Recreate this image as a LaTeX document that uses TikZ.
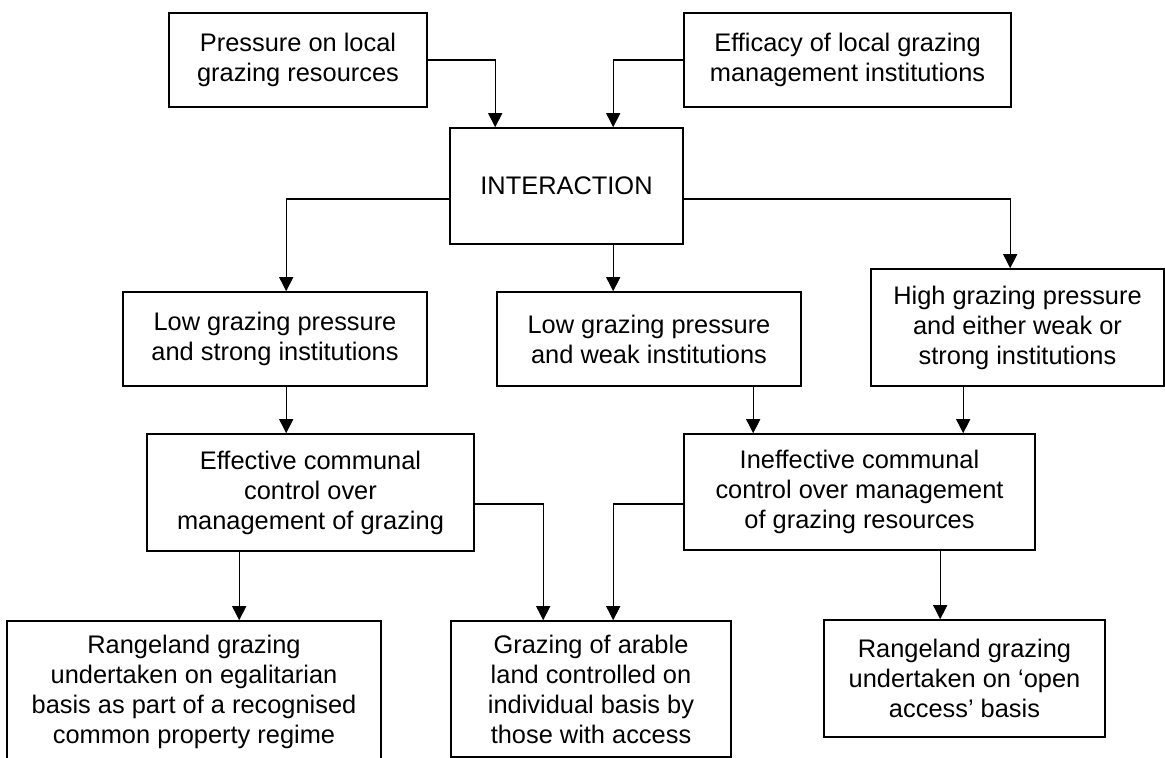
\documentclass[tikz,border=0pt]{standalone}
\usepackage{fontspec}
\setmainfont{Liberation Sans}
\usetikzlibrary{arrows.meta}

\begin{document}
\begin{tikzpicture}[
    x=0.5pt, y=-0.5pt,
    box/.style={rectangle, draw, line width=0.8pt, align=center,
                inner sep=2pt, font=\fontsize{12.7}{15}\selectfont},
    arr/.style={-{Triangle[length=7pt, width=7pt]}, line width=0.6pt}
  ]
    \path[use as bounding box, fill=white] (0,0) rectangle (1165,758);
    % the two inputs and their interaction
    \node[box, minimum width=129pt, minimum height=47pt] (pres) at (298,60) {Pressure on local\\ grazing resources};
    \node[box, minimum width=163.5pt, minimum height=47pt] (effi) at (847.5,60) {Efficacy of local grazing\\ management institutions};
    \node[box, minimum width=116.5pt, minimum height=58pt] (inter) at (566.5,186) {INTERACTION};
    % the three situations
    \node[box, minimum width=152pt, minimum height=47pt] (lowS) at (275,339) {Low grazing pressure\\ and strong institutions};
    \node[box, minimum width=152pt, minimum height=47pt] (lowW) at (649,339) {Low grazing pressure\\ and weak institutions};
    \node[box, minimum width=146.5pt, minimum height=58.5pt] (high) at (1017.5,327.5) {High grazing pressure\\ and either weak or\\ strong institutions};
    % control
    \node[box, minimum width=163.5pt, minimum height=58.5pt] (effc) at (310.5,492.5) {Effective communal\\ control over\\ management of grazing};
    \node[box, minimum width=175.5pt, minimum height=58pt] (ineff) at (859.5,492) {Ineffective communal\\ control over management\\ of grazing resources};
    % outcomes
    \node[box, minimum width=187pt, minimum height=71pt] (egal) at (194,692) {Rangeland grazing\\ undertaken on egalitarian\\ basis as part of a recognised\\ common property regime};
    \node[box, minimum width=140pt, minimum height=68pt] (arab) at (591,689) {Grazing of arable\\ land controlled on\\ individual basis by\\ those with access};
    \node[box, minimum width=140.5pt, minimum height=58.5pt] (open) at (964.5,678.5) {Rangeland grazing\\ undertaken on ‘open\\ access’ basis};

    \draw[arr] (pres.east) -| ([xshift=23pt]inter.north west);
    \draw[arr] (effi.west) -| ([xshift=82pt]inter.north west);
    \draw[arr] ([yshift=-6.5pt]inter.west) -| ([xshift=82pt]lowS.north west);
    \draw[arr] ([yshift=-6.5pt]inter.east) -| ([xshift=70pt]high.north west);
    \draw[arr] ([xshift=82pt]inter.south west) -- ([xshift=58.5pt]lowW.north west);
    \draw[arr] ([xshift=82pt]lowS.south west) -- ([xshift=70pt]effc.north west);
    \draw[arr] ([xshift=128.5pt]lowW.south west) -- ([xshift=35pt]ineff.north west);
    \draw[arr] ([xshift=46.5pt]high.south west) -- ([xshift=140pt]ineff.north west);
    \draw[arr] ([yshift=-5.75pt]effc.east) -| ([xshift=46.5pt]arab.north west);
    \draw[arr] ([yshift=-6pt]ineff.west) -| ([xshift=81.5pt]arab.north west);
    \draw[arr] ([xshift=46.5pt]effc.south west) -- ([xshift=116.5pt]egal.north west);
    \draw[arr] ([xshift=128.5pt]ineff.south west) -- ([xshift=58.5pt]open.north west);
\end{tikzpicture}
\end{document}
